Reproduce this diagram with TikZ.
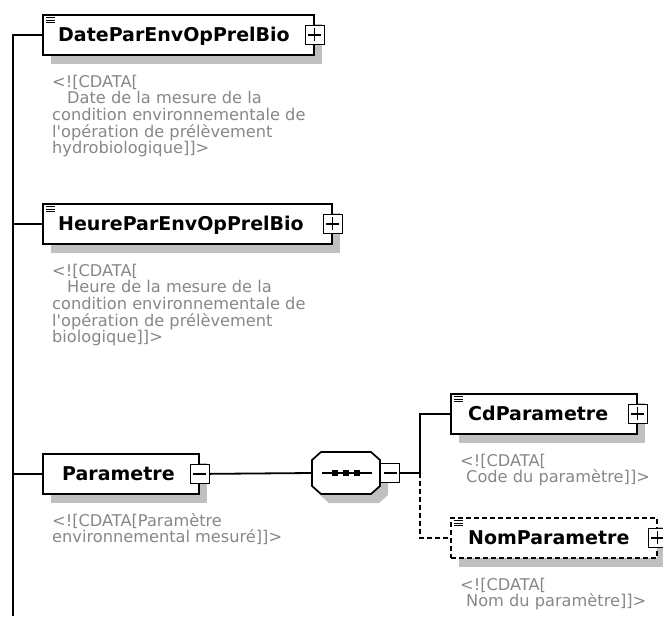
\documentclass[tikz,border=0pt]{standalone}
\usepackage{fontspec}
\setmainfont{DejaVu Sans}
\usetikzlibrary{calc,shadows}
\definecolor{descgray}{RGB}{135,135,135}
\definecolor{shadowgray}{RGB}{192,192,192}
\newcommand{\dlines}[1]{\vtop{\baselineskip=16.7pt\lineskiplimit=-20pt #1}}
\begin{document}
\begin{tikzpicture}[x=1pt,y=-1pt,
  conn/.style={draw=black, line width=1.8pt},
  optconn/.style={conn, dash pattern=on 5pt off 3pt},
  elbox/.style={draw=black, line width=1.7pt, fill=white, inner sep=0pt,
    minimum height=40pt, anchor=north west,
    drop shadow={shadow xshift=8pt, shadow yshift=-9pt, fill=shadowgray, opacity=1}},
  optbox/.style={elbox, dash pattern=on 5pt off 3pt},
  btn/.style={draw=black, line width=1.4pt, fill=white, minimum width=19pt,
    minimum height=19pt, inner sep=0pt},
  btnplus/.style={btn, path picture={
    \draw[line width=1.4pt] ([xshift=-6.5pt]path picture bounding box.center) -- ([xshift=6.5pt]path picture bounding box.center);
    \draw[line width=1.4pt] ([yshift=-6.5pt]path picture bounding box.center) -- ([yshift=6.5pt]path picture bounding box.center);}},
  btnminus/.style={btn, path picture={
    \draw[line width=1.4pt] ([xshift=-6.5pt]path picture bounding box.center) -- ([xshift=6.5pt]path picture bounding box.center);}},
  nametext/.style={font=\bfseries\fontsize{19}{22}\selectfont, anchor=base west, inner sep=0pt},
  desctext/.style={font=\fontsize{16.2}{16.7}\selectfont, text=descgray, anchor=base west, inner sep=0pt},
  icon/.style={line width=1pt}
]
\useasboundingbox (0,0) rectangle (663,616);

% element boxes
\node[elbox, minimum width=271pt] (date) at (42,14) {};
\node[elbox, minimum width=289pt] (heure) at (42,203) {};
\node[elbox, minimum width=156pt] (param) at (42,453) {};
\node[elbox, minimum width=186pt] (cd) at (450,393) {};
\node[optbox, minimum width=206pt] (nom) at (450,517) {};

% sequence compositor
\node[inner sep=0pt, minimum width=68pt, minimum height=42pt] (seq) at (346,473) {};
\fill[shadowgray, shift={(8,9)}] (312,460) -- (321,452) -- (371,452) -- (380,460) -- (380,486) -- (371,494) -- (321,494) -- (312,486) -- cycle;
\draw[line width=1.7pt, fill=white] (312,460) -- (321,452) -- (371,452) -- (380,460) -- (380,486) -- (371,494) -- (321,494) -- (312,486) -- cycle;
\draw[line width=1.5pt] (322,473) -- (372,473);
\foreach \dx in {335,346,357} \fill (\dx-2.7,470.3) rectangle (\dx+2.7,475.7);

% buttons
\node[btnplus] (datebtn) at (date.east) {};
\node[btnplus] (heurebtn) at (heure.east) {};
\node[btnminus] (parambtn) at (param.east) {};
\node[btnminus] (seqbtn) at (390,473) {};
\node[btnplus] (cdbtn) at (cd.east) {};
\node[btnplus] (nombtn) at (nom.east) {};

% icons
\foreach \bx/\by in {42/14, 42/203, 450/393, 450/517}
  \foreach \k in {3.5,6,8.5}
    \draw[icon] (\bx+4,\by+\k) -- (\bx+12.5,\by+\k);

% names
\node[nametext] (datename) at (58,41) {DateParEnvOpPrelBio};
\node[nametext] (heurename) at (58,230) {HeureParEnvOpPrelBio};
\node[nametext] (paramname) at (62,480) {Parametre};
\node[nametext] (cdname) at (468,420) {CdParametre};
\node[nametext] (nomname) at (468,544) {NomParametre};

% descriptions
\node[desctext] (datedesc) at (52,87) {\dlines{\hbox{<![CDATA[}\hbox{\hspace*{15pt}Date de la mesure de la}\hbox{condition environnementale de}\hbox{l\textquotesingle opération de prélèvement}\hbox{hydrobiologique]]>}}};
\node[desctext] (heuredesc) at (52,276) {\dlines{\hbox{<![CDATA[}\hbox{\hspace*{15pt}Heure de la mesure de la}\hbox{condition environnementale de}\hbox{l\textquotesingle opération de prélèvement}\hbox{biologique]]>}}};
\node[desctext] (paramdesc) at (52,526) {\dlines{\hbox{<![CDATA[Paramètre}\hbox{environnemental mesuré]]>}}};
\node[desctext] (cddesc) at (460,466) {\dlines{\hbox{<![CDATA[}\hbox{\hspace*{6pt}Code du paramètre]]>}}};
\node[desctext] (nomdesc) at (460,590) {\dlines{\hbox{<![CDATA[}\hbox{\hspace*{6pt}Nom du paramètre]]>}}};

% connectors
\coordinate (trunkend) at (13,616);
\coordinate (branch) at (420,473);
\draw[conn, line width=2pt] (date.west) -| (trunkend);
\draw[conn] (heure.west) -- (heure.west -| trunkend);
\draw[conn] (param.west) -- (param.west -| trunkend);
\draw[conn] (parambtn.east) -- (seq.west);
\draw[conn] (seqbtn.east) -- (branch);
\draw[conn] (branch) |- (cd.west);
\draw[optconn] (branch) |- (nom.west);
\end{tikzpicture}
\end{document}
